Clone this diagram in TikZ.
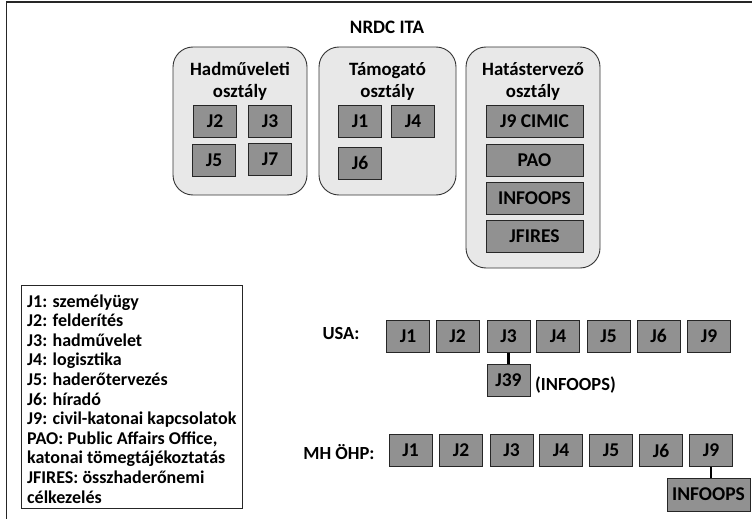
\documentclass[tikz,border=0pt]{standalone}
\usepackage{fontspec}
\setmainfont{Carlito}
\begin{document}
\begin{tikzpicture}[x=1pt,y=-1pt,
  cont/.style={draw=black!80, line width=0.9pt, rounded corners=20pt, fill=black!9, inner sep=0pt},
  jbox/.style={draw=black!85, line width=1pt, fill=black!43, inner sep=0pt, minimum width=43pt, minimum height=32pt, font=\bfseries\fontsize{19.5}{20}\selectfont},
  wbox/.style={jbox, minimum width=97pt},
  ttl/.style={font=\bfseries\fontsize{18.8}{22}\selectfont, align=center, inner sep=0pt},
  lbl/.style={font=\bfseries\fontsize{18.5}{20}\selectfont, inner sep=0pt},
  conn/.style={line width=2.4pt, black}]
\useasboundingbox (0,0) rectangle (752,519);
\draw[line width=1.2pt, black!85] (6.5,519) -- (6.5,2) -- (752,2);
\node[lbl, font=\bfseries\fontsize{19}{20}\selectfont] (nrdc) at (387,27) {NRDC ITA};
% containers
\node[cont, minimum width=134pt, minimum height=148pt] (c1) at (240,121) {};
\node[cont, minimum width=137pt, minimum height=148pt] (c2) at (387.5,121) {};
\node[cont, minimum width=134pt, minimum height=221pt] (c3) at (533,157.5) {};
\node[ttl] (t1) at (240,81) {Hadműveleti\\osztály};
\node[ttl] (t2) at (387.5,81) {Támogató\\osztály};
\node[ttl] (t3) at (533,81) {Hatástervező\\osztály};
\node[jbox] (h2) at (215,121) {J2};
\node[jbox] (h3) at (270,121) {J3};
\node[jbox] (h5) at (214,160.5) {J5};
\node[jbox] (h7) at (270,159) {J7};
\node[jbox] (s1) at (360,121) {J1};
\node[jbox] (s4) at (413,121.5) {J4};
\node[jbox] (s6) at (360,163) {J6};
\node[wbox] (e1) at (534.5,121) {J9 CIMIC};
\node[wbox] (e2) at (534.5,160) {PAO};
\node[wbox] (e3) at (534.5,198.5) {INFOOPS};
\node[wbox] (e4) at (534.5,236.5) {JFIRES};
% legend
\node[draw=black!85, line width=1pt, minimum width=221pt, minimum height=223pt, inner sep=0pt] (leg) at (131.5,396.5) {};
\node[anchor=base west, align=left, inner sep=0pt, font=\bfseries\fontsize{18}{19.6}\selectfont] (legt) at (27,503) {J1: személyügy\\J2: felderítés\\J3: hadművelet\\J4: logisztika\\J5: haderőtervezés\\J6: híradó\\J9: civil-katonai kapcsolatok\\PAO: Public Affairs Office,\\katonai tömegtájékoztatás\\JFIRES: összhaderőnemi\\célkezelés};
% USA
\node[lbl] (usa) at (341,333) {USA:};
\node[jbox] (u1) at (408,336) {J1};
\node[jbox] (u2) at (457.5,336) {J2};
\node[jbox] (u3) at (508.5,336) {J3};
\node[jbox] (u4) at (558,336) {J4};
\node[jbox] (u5) at (608.5,336) {J5};
\node[jbox] (u6) at (658.5,336) {J6};
\node[jbox] (u9) at (709,336) {J9};
\node[jbox] (u39) at (508.5,380.5) {J39};
\node[lbl, anchor=west] (uinf) at (535,385) {(INFOOPS)};
\draw[conn] (u3.south) -- (u39.north);
% MH OHP
\node[lbl] (mh) at (339,452) {MH ÖHP:};
\node[jbox] (m1) at (410.5,450.5) {J1};
\node[jbox] (m2) at (461,450.5) {J2};
\node[jbox] (m3) at (511.5,450.5) {J3};
\node[jbox] (m4) at (561,450.5) {J4};
\node[jbox] (m5) at (611,450.5) {J5};
\node[jbox] (m6) at (661,450.5) {J6};
\node[jbox] (m9) at (711,450.5) {J9};
\node[jbox, minimum width=83pt, minimum height=33pt] (minf) at (708.5,494.5) {INFOOPS};
\draw[conn] (m9.south) -- (m9.south |- minf.north);
\end{tikzpicture}
\end{document}
